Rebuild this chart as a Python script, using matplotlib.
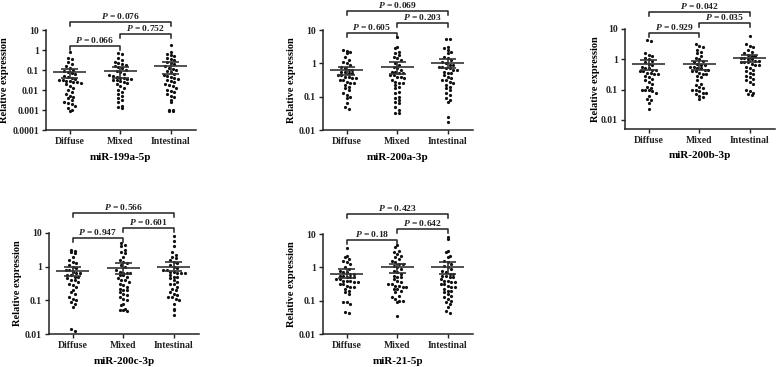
"""Scatter dot plots of relative miRNA expression by Lauren subtype."""
import numpy as np
import matplotlib
matplotlib.use("Agg")
import matplotlib.pyplot as plt
from matplotlib.ticker import FixedLocator, FuncFormatter

plt.rcParams["font.family"] = "Liberation Serif"
plt.rcParams["font.weight"] = "bold"
plt.rcParams["mathtext.fontset"] = "custom"
plt.rcParams["mathtext.it"] = "Liberation Serif:italic:bold"
plt.rcParams["mathtext.rm"] = "Liberation Serif:bold"

groups = ["Diffuse", "Mixed", "Intestinal"]
mirnas = ["miR-199a-5p", "miR-200a-3p", "miR-200b-3p", "miR-200c-3p", "miR-21-5p"]

# log10 relative expression
log_199a = [
    [-0.1, -0.4, -0.45, -0.6, -0.7, -0.8, -0.9, -1.0, -1.05, -1.1, -1.15, -1.2, -1.3, -1.35,
     -1.4, -1.45, -1.5, -1.5, -1.55, -1.55, -1.6, -1.6, -1.65, -1.7, -1.8, -1.9, -2.0, -2.1,
     -2.2, -2.3, -2.35, -2.4, -2.5, -2.6, -2.65, -2.7, -2.8, -2.9, -3.0, -3.05],
    [-0.15, -0.2, -0.4, -0.5, -0.6, -0.65, -0.7, -0.75, -0.8, -0.85, -0.9, -1.0, -1.05, -1.1,
     -1.2, -1.25, -1.3, -1.35, -1.4, -1.4, -1.45, -1.45, -1.5, -1.5, -1.55, -1.6, -1.65, -1.7,
     -1.8, -1.9, -2.0, -2.1, -2.2, -2.3, -2.4, -2.5, -2.6, -2.8, -2.85, -2.9],
    [0.25, -0.1, -0.2, -0.25, -0.3, -0.4, -0.45, -0.5, -0.6, -0.65, -0.7, -0.8, -0.9, -0.95,
     -1.0, -1.05, -1.1, -1.2, -1.25, -1.3, -1.35, -1.4, -1.45, -1.5, -1.55, -1.6, -1.7, -1.75,
     -1.8, -1.9, -2.0, -2.05, -2.1, -2.2, -2.3, -2.35, -2.5, -2.6, -3.0, -3.05, -3.05, -3.0],
]
log_200a = [
    [0.4, 0.38, 0.35, 0.3, 0.2, 0.1, 0.05, 0.0, -0.05, -0.1, -0.15, -0.2, -0.2, -0.25, -0.25,
     -0.3, -0.3, -0.35, -0.35, -0.4, -0.4, -0.45, -0.45, -0.5, -0.5, -0.55, -0.6, -0.6, -0.65,
     -0.7, -0.75, -0.8, -0.9, -0.95, -1.0, -1.05, -1.2, -1.3, -1.37],
    [0.78, 0.5, 0.45, 0.35, 0.3, 0.25, 0.2, 0.15, 0.1, 0.0, -0.05, -0.1, -0.15, -0.2, -0.25,
     -0.25, -0.3, -0.3, -0.35, -0.35, -0.4, -0.4, -0.45, -0.5, -0.55, -0.6, -0.6, -0.65, -0.7,
     -0.75, -0.85, -0.9, -1.0, -1.05, -1.1, -1.15, -1.2, -1.3, -1.4, -1.48, -1.5],
    [0.74, 0.72, 0.5, 0.45, 0.4, 0.35, 0.3, 0.2, 0.15, 0.1, 0.05, 0.0, -0.05, -0.05, -0.1,
     -0.1, -0.15, -0.15, -0.2, -0.2, -0.25, -0.3, -0.3, -0.35, -0.4, -0.45, -0.5, -0.5, -0.55,
     -0.6, -0.65, -0.7, -0.75, -0.8, -0.9, -0.95, -1.05, -1.1, -1.15, -1.6, -1.75],
]
log_200b = [
    [0.65, 0.6, 0.2, 0.15, 0.1, 0.05, 0.0, -0.05, -0.1, -0.15, -0.2, -0.25, -0.3, -0.3, -0.35,
     -0.35, -0.4, -0.4, -0.45, -0.45, -0.5, -0.5, -0.55, -0.6, -0.65, -0.7, -0.75, -0.8, -0.9,
     -0.95, -1.0, -1.0, -1.0, -1.05, -1.1, -1.2, -1.3, -1.35, -1.45, -1.65],
    [0.5, 0.45, 0.4, 0.3, 0.25, 0.2, 0.1, 0.05, 0.0, -0.05, -0.1, -0.15, -0.2, -0.2, -0.25,
     -0.25, -0.3, -0.3, -0.35, -0.35, -0.4, -0.4, -0.45, -0.5, -0.5, -0.55, -0.6, -0.7, -0.8,
     -0.85, -0.9, -0.95, -1.0, -1.0, -1.05, -1.1, -1.1, -1.15, -1.2, -1.25, -1.3],
    [0.78, 0.5, 0.45, 0.4, 0.3, 0.25, 0.2, 0.15, 0.1, 0.1, 0.05, 0.05, 0.0, 0.0, -0.05, -0.05,
     -0.1, -0.1, -0.1, -0.15, -0.2, -0.2, -0.25, -0.3, -0.35, -0.4, -0.45, -0.5, -0.55, -0.6,
     -0.65, -0.7, -0.75, -0.8, -1.0, -1.05, -1.1, -1.15, -1.17],
]
log_200c = [
    [0.5, 0.48, 0.45, 0.4, 0.3, 0.2, 0.15, 0.1, 0.05, 0.0, -0.05, -0.1, -0.1, -0.15, -0.2,
     -0.2, -0.25, -0.25, -0.3, -0.3, -0.35, -0.4, -0.4, -0.45, -0.5, -0.55, -0.6, -0.7, -0.75,
     -0.8, -0.9, -0.95, -1.0, -1.05, -1.1, -1.2, -1.85, -1.9],
    [0.7, 0.65, 0.6, 0.5, 0.45, 0.4, 0.3, 0.2, 0.15, 0.1, 0.05, 0.0, -0.1, -0.15, -0.2, -0.2,
     -0.2, -0.25, -0.25, -0.3, -0.35, -0.4, -0.4, -0.45, -0.5, -0.55, -0.6, -0.65, -0.7, -0.7,
     -0.75, -0.8, -0.85, -0.9, -0.95, -1.0, -1.1, -1.15, -1.25, -1.3, -1.3, -1.32],
    [0.9, 0.75, 0.6, 0.45, 0.35, 0.3, 0.25, 0.2, 0.15, 0.1, 0.05, 0.0, -0.05, -0.1, -0.1,
     -0.15, -0.15, -0.2, -0.2, -0.2, -0.25, -0.3, -0.3, -0.35, -0.4, -0.45, -0.5, -0.5, -0.6,
     -0.65, -0.7, -0.75, -0.8, -0.85, -0.9, -0.9, -0.95, -1.0, -1.1, -1.25, -1.3, -1.43],
]
log_21 = [
    [0.58, 0.35, 0.3, 0.25, 0.2, 0.15, 0.1, 0.0, -0.05, -0.1, -0.15, -0.15, -0.2, -0.2, -0.25,
     -0.25, -0.3, -0.3, -0.3, -0.35, -0.35, -0.4, -0.4, -0.4, -0.45, -0.45, -0.5, -0.5, -0.55,
     -0.6, -0.6, -0.65, -0.7, -0.75, -0.8, -1.05, -1.05, -1.1, -1.35, -1.37],
    [0.68, 0.6, 0.5, 0.45, 0.4, 0.35, 0.3, 0.25, 0.2, 0.15, 0.1, 0.1, 0.05, 0.0, -0.05, -0.1,
     -0.15, -0.2, -0.25, -0.3, -0.3, -0.35, -0.4, -0.45, -0.5, -0.5, -0.55, -0.55, -0.6, -0.6,
     -0.65, -0.65, -0.7, -0.75, -0.85, -0.9, -0.95, -1.0, -1.0, -1.05, -1.45],
    [0.9, 0.85, 0.5, 0.45, 0.35, 0.3, 0.2, 0.15, 0.1, 0.05, 0.0, -0.05, -0.1, -0.15, -0.2,
     -0.2, -0.25, -0.25, -0.3, -0.3, -0.35, -0.4, -0.4, -0.45, -0.45, -0.5, -0.5, -0.55, -0.6,
     -0.6, -0.65, -0.7, -0.7, -0.75, -0.8, -0.85, -0.9, -0.95, -1.0, -1.05, -1.1, -1.2, -1.3,
     -1.37],
]
all_logs = [log_199a, log_200a, log_200b, log_200c, log_21]

# centre line and error bar ends (relative expression)
centers = [[0.075, 0.085, 0.15], [0.65, 0.8, 1.0], [0.7, 0.7, 1.07], [0.73, 0.94, 1.0], [0.65, 1.0, 1.0]]
err_lo = [[0.04, 0.04, 0.06], [0.45, 0.48, 0.7], [0.43, 0.46, 0.8], [0.54, 0.62, 0.74], [0.49, 0.68, 0.62]]
err_hi = [[0.11, 0.135, 0.24], [0.8, 1.12, 1.35], [0.95, 0.87, 1.4], [1.0, 1.3, 1.38], [0.87, 1.3, 1.45]]

# P values: Diffuse-Intestinal, Mixed-Intestinal, Diffuse-Mixed
p_values = [["0.076", "0.752", "0.066"], ["0.069", "0.203", "0.605"], ["0.042", "0.035", "0.929"],
            ["0.566", "0.601", "0.947"], ["0.423", "0.642", "0.18"]]
bracket_log_y = [[1.4, 0.8, 0.2], [1.56, 1.2, 0.91], [1.57, 1.2, 0.87],
                 [1.59, 1.15, 0.85], [1.6, 1.15, 0.82]]
bracket_pairs = [(0, 2), (1, 2), (0, 1)]

y_ranges = [(1e-4, 10), (0.01, 10), (0.005, 10), (0.01, 10), (0.01, 10)]
y_ticks = [[1e-4, 1e-3, 1e-2, 0.1, 1, 10], [0.01, 0.1, 1, 10], [0.01, 0.1, 1, 10],
           [0.01, 0.1, 1, 10], [0.01, 0.1, 1, 10]]

# panel boxes in pixels: left, top, bottom
W, H = 776, 367
boxes = [(46, 30, 130), (323, 30, 130), (625, 29, 129), (49, 233, 334), (323, 234, 334)]
ylab_off = [41, 31, 30, 32, 31]
AX_W = 150
XLIM = (-0.47, 2.5)

fig = plt.figure(figsize=(W / 100, H / 100), dpi=100)
fig.patch.set_facecolor("white")


def swarm_offsets(vals, bin_size, dx):
    vals = np.asarray(vals)
    bins = np.round(vals / bin_size).astype(int)
    off = np.zeros(len(vals))
    for b in np.unique(bins):
        idx = np.where(bins == b)[0]
        n = len(idx)
        off[idx] = (np.arange(n) - (n - 1) / 2) * dx
    return off


for k, name in enumerate(mirnas):
    left, top, bottom = boxes[k]
    ax = fig.add_axes([left / W, 1 - bottom / H, AX_W / W, (bottom - top) / H])
    ax.set_yscale("log")
    lo, hi = y_ranges[k]
    ax.set_ylim(lo, hi)
    ax.set_xlim(*XLIM)
    px_per_dec = (bottom - top) / (np.log10(hi) - np.log10(lo))
    px_per_x = AX_W / (XLIM[1] - XLIM[0])

    for g in range(3):
        vals = all_logs[k][g]
        xo = swarm_offsets(vals, 4.5 / px_per_dec, 3.6 / px_per_x)
        ax.plot(g + xo, 10 ** np.asarray(vals), "o", ms=2.3, color="#111111",
                mec="none", clip_on=False, zorder=3)
        ax.hlines(centers[k][g], g - 0.33, g + 0.33, color="#333333", lw=1.2, zorder=4)
        ax.vlines(g, err_lo[k][g], err_hi[k][g], color="#333333", lw=1.2, zorder=4)
        ax.hlines([err_lo[k][g], err_hi[k][g]], g - 0.17, g + 0.17, color="#333333",
                  lw=1.2, zorder=4)

    drop = 4.0 / px_per_dec
    for (a, b), ly, pv in zip(bracket_pairs, bracket_log_y[k], p_values[k]):
        yb = 10 ** ly
        yd = 10 ** (ly - drop)
        ax.plot([a, a, b, b], [yd, yb, yb, yd], color="#222222", lw=1.1, clip_on=False)
        ax.text((a + b) / 2, 10 ** (ly + 1.0 / px_per_dec), f"$P$ = {pv}", ha="center",
                va="bottom", fontsize=6.8, fontweight="bold", color="#222222")

    for s in ["top", "right"]:
        ax.spines[s].set_visible(False)
    for s in ["left", "bottom"]:
        ax.spines[s].set_linewidth(1.1)
        ax.spines[s].set_color("#222222")
    ax.yaxis.set_major_locator(FixedLocator(y_ticks[k]))
    ax.yaxis.set_minor_locator(FixedLocator([]))
    ax.yaxis.set_major_formatter(FuncFormatter(lambda v, _: "%g" % v))
    ax.set_xticks(range(3))
    ax.set_xticklabels(groups)
    ax.tick_params(axis="both", labelsize=7, width=1.0, length=3, pad=2, colors="#222222")
    for lbl in ax.get_xticklabels() + ax.get_yticklabels():
        lbl.set_fontweight("bold")

    h = bottom - top
    ax.text(-ylab_off[k] / AX_W, 0.5, "Relative expression", transform=ax.transAxes,
            rotation=90, ha="center", va="center", fontsize=7.5, fontweight="bold")
    ax.text(0.5, -27 / h, name, transform=ax.transAxes, ha="center", va="center",
            fontsize=8, fontweight="bold")

fig.savefig("out.png", dpi=100)
